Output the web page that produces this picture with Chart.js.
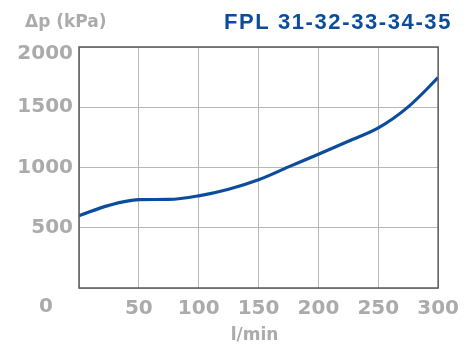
<!DOCTYPE html>
<html><head><meta charset="utf-8">
<script src="https://cdn.jsdelivr.net/npm/chart.js@4/dist/chart.umd.min.js"></script>
<style>html,body{margin:0;padding:0;background:#fff}#wrap{width:468px;height:345px}</style>
</head><body><div id="wrap"><canvas id="c" width="468" height="345"></canvas></div>
<script>
// ---- data ----
const flowRates = [0, 25, 50, 75, 100, 125, 150, 175, 200, 225, 250, 275, 300];
const pressureDrop = [600, 686, 733, 735, 765, 820, 898, 1005, 1110, 1218, 1328, 1503, 1745];
const xTicks = [0, 50, 100, 150, 200, 250, 300];
const yTicks = [0, 500, 1000, 1500, 2000];
const chartTitle = 'FPL 31-32-33-34-35';
const yAxisTitle = 'Δp (kPa)';
const xAxisTitle = 'l/min';
const originLabel = '0';

const GRAY = '#ababab';
const BLUE = '#0b4c9c';
const tickFont = {family: '"DejaVu Sans"', size: 20, weight: 'bold'};

const points = flowRates.map((x, i) => ({x: x, y: pressureDrop[i]}));

const decor = {
  id: 'decor',
  beforeDraw(chart) {
    const s = chart.scales.y;
    s.getLabelItems().forEach(it => {
      if (String(it.label) === String(yTicks[yTicks.length - 1]) && !it._shifted) {
        it.options.translation[1] += 7; it._shifted = true;
      }
    });
  },
  afterDraw(chart) {
    const ctx = chart.ctx, a = chart.chartArea;
    ctx.save();
    ctx.strokeStyle = '#5a5a5a';
    ctx.lineWidth = 1.5;
    ctx.strokeRect(a.left, a.top, a.right - a.left, a.bottom - a.top);
    // origin label
    ctx.fillStyle = GRAY;
    ctx.font = 'bold 20px "DejaVu Sans"';
    ctx.textAlign = 'center'; ctx.textBaseline = 'middle';
    ctx.fillText(originLabel, a.left - 33, a.bottom + 19);
    // x axis title
    ctx.font = 'bold 17px "DejaVu Sans"';
    ctx.fillText(xAxisTitle, (a.left + a.right) / 2 - 4, a.bottom + 48);
    // y axis title
    ctx.textAlign = 'left';
    ctx.fillText(yAxisTitle, 25, 23);
    // chart title
    ctx.fillStyle = BLUE;
    ctx.font = 'bold 22px "Liberation Sans"';
    ctx.letterSpacing = '1.6px';
    ctx.textAlign = 'right';
    ctx.fillText(chartTitle, 452, 23);
    ctx.restore();
  }
};

new Chart(document.getElementById('c'), {
  type: 'line',
  data: {
    datasets: [{
      data: points,
      borderColor: BLUE,
      borderWidth: 3.2,
      pointRadius: 0,
      fill: false,
      cubicInterpolationMode: 'monotone'
    }]
  },
  options: {
    responsive: false,
    animation: false,
    devicePixelRatio: 1,
    layout: {padding: {left: 0, right: 26, top: 47, bottom: 0}},
    plugins: {legend: {display: false}, tooltip: {enabled: false}, title: {display: false}},
    scales: {
      x: {
        type: 'linear', min: xTicks[0], max: xTicks[xTicks.length - 1],
        afterBuildTicks: s => { s.ticks = xTicks.map(v => ({value: v})); },
        afterFit: s => { s.height = 57; },
        grid: {color: '#b8b8b8', lineWidth: 1, drawTicks: false},
        border: {display: false},
        ticks: {
          color: GRAY, font: tickFont, padding: 9, maxRotation: 0, autoSkip: false,
          callback: v => (v === 0 ? '' : String(v))
        }
      },
      y: {
        type: 'linear', min: yTicks[0], max: yTicks[yTicks.length - 1],
        afterBuildTicks: s => { s.ticks = yTicks.map(v => ({value: v})); },
        afterFit: s => { s.width = 79; },
        grid: {color: '#b8b8b8', lineWidth: 1, drawTicks: false},
        border: {display: false},
        ticks: {
          color: GRAY, font: tickFont, padding: 6,
          callback: v => (v === 0 ? '' : String(v))
        }
      }
    }
  },
  plugins: [decor]
});
</script>
</body></html>
